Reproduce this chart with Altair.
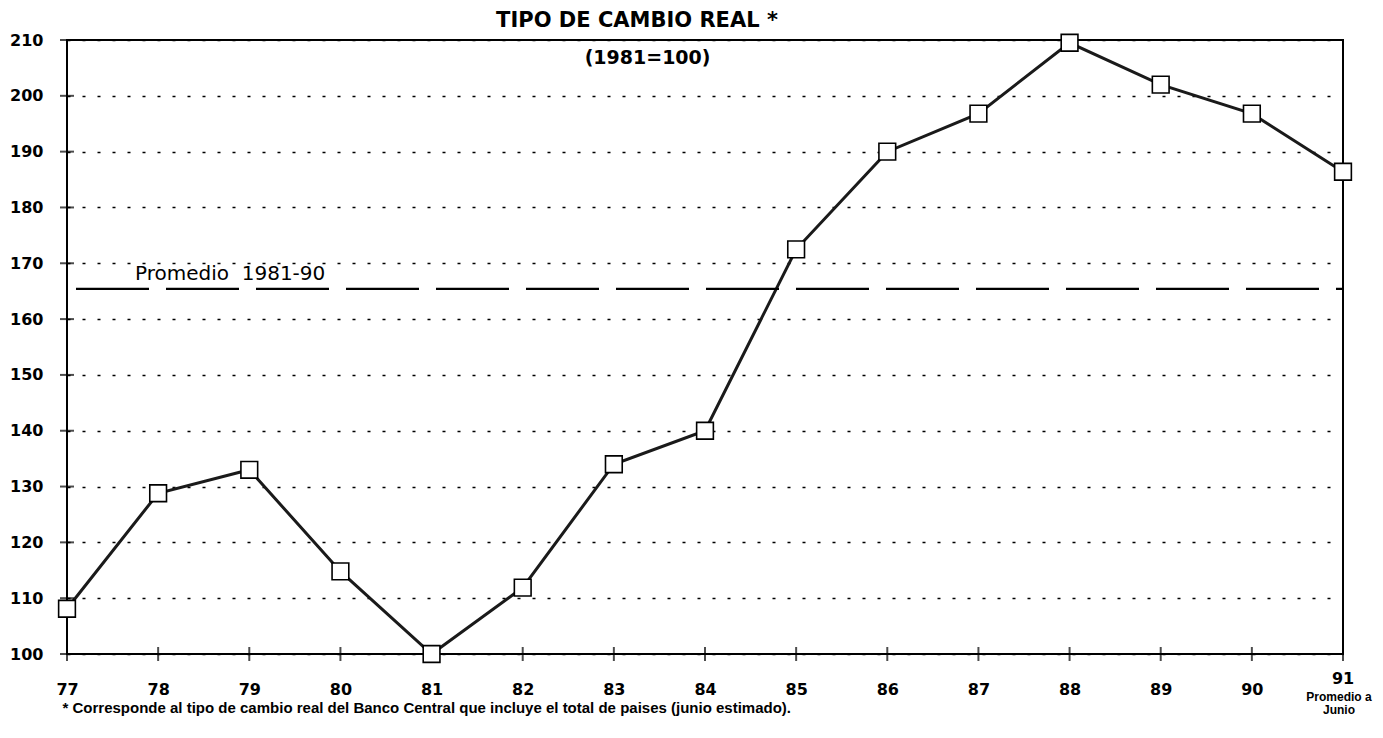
import altair as alt
import pandas as pd

years = [77, 78, 79, 80, 81, 82, 83, 84, 85, 86, 87, 88, 89, 90, 91]
values = [108.1, 128.8, 133.0, 114.8, 100.0, 111.9, 134.0, 140.0, 172.5, 190.0, 196.8, 209.5, 202.0, 196.8, 186.4]
axis_years = years[:-1]
y_ticks = list(range(100, 211, 10))
avg_value = 165.4
avg_label = "Promedio\u00a0\u00a01981-90"
title_text = "TIPO DE CAMBIO REAL *"
subtitle_text = "(1981=100)"
footnote = "* Corresponde al tipo de cambio real del Banco Central que incluye el total de paises (junio estimado)."
last_label = ["91", "Promedio a", "Junio"]

WIDE = "DejaVu Sans"

df = pd.DataFrame({"year": years, "value": values})
xticks_df = pd.DataFrame({"year": years})
yticks_df = pd.DataFrame({"tick": y_ticks})

xscale = alt.Scale(domain=[77, 91], nice=False, zero=False)
yscale = alt.Scale(domain=[100, 210], nice=False, zero=False)

x_axis = alt.Axis(values=axis_years, format="d", title=footnote, grid=False, ticks=False, domain=False,
                  labelFont=WIDE, labelFontSize=16, labelFontWeight="bold", labelPadding=27, labelFlush=False,
                  titleFont="Liberation Sans", titleFontSize=15, titleFontWeight="bold",
                  titleAnchor="start", titleAlign="left", titleX=-5, titlePadding=3)
y_axis = alt.Axis(values=y_ticks, title=None, grid=True, gridDash=[3, 12], gridColor="black", gridWidth=1.6,
                  ticks=False, domain=False, labelFont=WIDE, labelFontSize=16, labelFontWeight="bold",
                  labelPadding=24)

line = alt.Chart(df).mark_line(color="#1a1a1a", strokeWidth=3).encode(
    x=alt.X("year:Q", scale=xscale, axis=x_axis),
    y=alt.Y("value:Q", scale=yscale, axis=y_axis),
)
points = alt.Chart(df).mark_point(shape="square", filled=True, fill="white", stroke="black",
                                  strokeWidth=1.6, size=280, opacity=1).encode(
    x="year:Q", y="value:Q")

xticks = alt.Chart(xticks_df).mark_tick(orient="vertical", size=14, thickness=2, color="black").encode(
    x="year:Q", y=alt.datum(100))
yticks = alt.Chart(yticks_df).mark_tick(orient="horizontal", size=14, thickness=2, color="black").encode(
    y="tick:Q", x=alt.datum(77))

avg_rule = alt.Chart(pd.DataFrame({"avg": [avg_value]})).mark_rule(
    color="black", strokeWidth=2.2, strokeDash=[73, 17], strokeDashOffset=81).encode(
    y="avg:Q", x=alt.datum(77), x2=alt.datum(91))

avg_text = alt.Chart(pd.DataFrame({"x": [78.79], "y": [168.0], "t": [avg_label]})).mark_text(
    fontSize=20, font=WIDE, color="black").encode(x="x:Q", y="y:Q", text="t:N")

sub_text = alt.Chart(pd.DataFrame({"x": [83.37], "y": [206.7], "t": [subtitle_text]})).mark_text(
    fontSize=19, font=WIDE, fontWeight="bold", color="black").encode(x="x:Q", y="y:Q", text="t:N")

last_df = pd.DataFrame({"year": [91, 91, 91], "y": [100, 100, 100], "t": last_label})
last_big = alt.Chart(last_df.iloc[:1]).mark_text(fontSize=16, font=WIDE, fontWeight="bold", dy=25,
                                                 color="black").encode(x="year:Q", y="y:Q", text="t:N")
last_small1 = alt.Chart(last_df.iloc[1:2]).mark_text(fontSize=12, fontWeight="bold", dy=43, dx=-4,
                                                     color="black").encode(x="year:Q", y="y:Q", text="t:N")
last_small2 = alt.Chart(last_df.iloc[2:3]).mark_text(fontSize=12, fontWeight="bold", dy=56, dx=-4,
                                                     color="black").encode(x="year:Q", y="y:Q", text="t:N")

chart = alt.layer(line, avg_rule, xticks, yticks, points, avg_text, sub_text, last_big, last_small1, last_small2).properties(
    width=1276, height=614,
    title=alt.TitleParams(title_text, font=WIDE, fontSize=21, fontWeight="bold", anchor="middle", frame="group",
                          dx=-68, offset=0, color="black"),
    autosize=alt.AutoSizeParams(type="none"),
    padding={"left": 59, "top": 32, "right": 32, "bottom": 68},
).configure(font="Liberation Sans").configure_view(stroke="black", strokeWidth=2).configure_axis(
    labelColor="black", titleColor="black")

chart.save("out.html", embed_options={"renderer": "svg", "actions": False})
